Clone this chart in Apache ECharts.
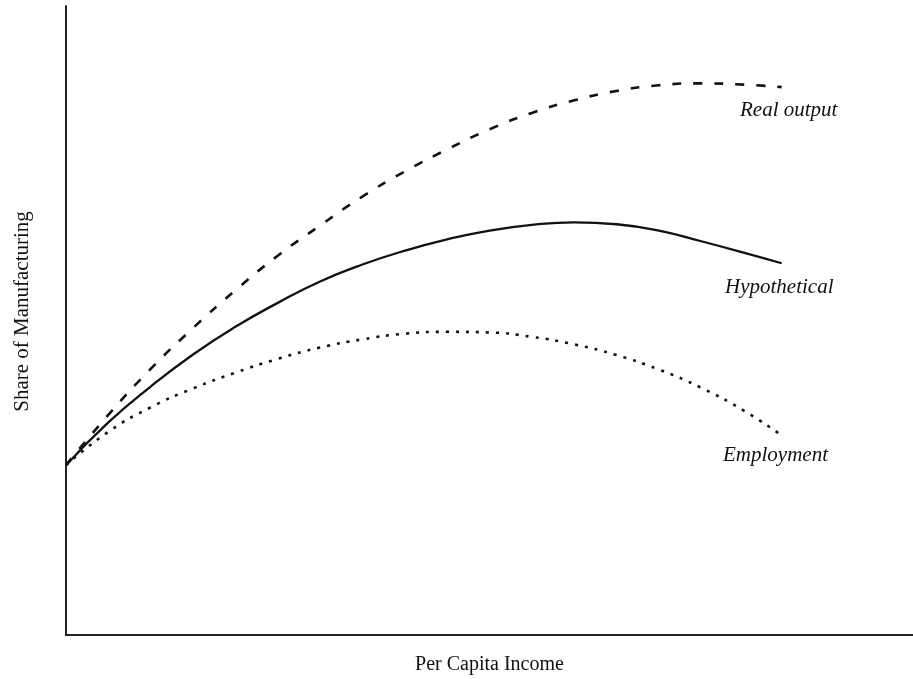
<!DOCTYPE html>
<html>
<head>
<meta charset="utf-8">
<script src="https://cdn.jsdelivr.net/npm/echarts@6/dist/echarts.min.js"></script>
<style>
  html, body { margin: 0; padding: 0; background: #fff; }
  #chart { width: 913px; height: 679px; }
</style>
</head>
<body>
<div id="chart"></div>
<script>
// curves (x: income, y: share), axis range 0..100
const incomes = [0, 5, 10, 15, 20, 25, 30, 35, 40, 45, 50, 55, 60, 65, 70, 75, 80, 84.5]
const realOutput = [27, 35.0, 42.3, 48.8, 54.8, 60.3, 65.1, 69.7, 73.7, 77.2, 80.4, 83.0, 85.0, 86.5, 87.4, 87.7, 87.5, 87.1]
const hypothetical = [27, 33.8, 39.5, 44.6, 49.0, 52.8, 56.2, 58.9, 61.1, 62.9, 64.3, 65.2, 65.6, 65.3, 64.3, 62.6, 60.8, 59.1]
const employment = [27, 32.3, 36.2, 39.2, 41.7, 43.9, 45.7, 47.0, 47.9, 48.2, 48.1, 47.4, 46.2, 44.5, 42.2, 39.3, 35.7, 32.1]
const employmentIncomes = [0, 5, 10, 15, 20, 25, 30, 35, 40, 45, 50, 55, 60, 65, 70, 75, 80, 84.1]
const curveLabels = ['Real output', 'Hypothetical', 'Employment']

const serif = '"Liberation Serif", "DejaVu Serif", serif'
const ink = '#111'

let chart = echarts.init(document.getElementById('chart'))

function pairs(xs, ys) {
  return ys.map((y, i) => [xs[i], y])
}

function curve(name, data, width, dash) {
  return {
    name,
    type: 'line',
    data,
    smooth: true,
    symbol: 'none',
    lineStyle: { color: ink, width, type: dash || 'solid' },
    animation: false
  }
}

function tag(text, x, y) {
  return {
    type: 'text',
    left: x,
    top: y,
    style: {
      text,
      fill: ink,
      font: 'italic 21px ' + serif
    }
  }
}

chart.setOption({
  backgroundColor: '#fff',
  animation: false,
  grid: { left: 66, right: 0, top: 6, bottom: 44, containLabel: false, outerBoundsMode: 'none' },
  xAxis: {
    type: 'value',
    min: 0,
    max: 100,
    name: 'Per Capita Income',
    nameLocation: 'middle',
    nameGap: 20,
    nameTextStyle: { fontFamily: serif, fontSize: 20, color: ink },
    axisLine: { lineStyle: { color: '#222', width: 2 } },
    axisTick: { show: false },
    axisLabel: { show: false },
    splitLine: { show: false }
  },
  yAxis: {
    type: 'value',
    min: 0,
    max: 100,
    name: 'Share of Manufacturing',
    nameLocation: 'middle',
    nameGap: 33,
    nameTextStyle: { fontFamily: serif, fontSize: 21, color: ink, padding: [0, 0, 0, 18] },
    axisLine: { show: true, lineStyle: { color: '#222', width: 2 } },
    axisTick: { show: false },
    axisLabel: { show: false },
    splitLine: { show: false }
  },
  series: [
    curve(curveLabels[0], pairs(incomes, realOutput), 2.6, [9, 12]),
    curve(curveLabels[1], pairs(incomes, hypothetical), 2.3),
    curve(curveLabels[2], pairs(employmentIncomes, employment), 2.6, [3, 7])
  ],
  graphic: [
    tag(curveLabels[0], 740, 100),
    tag(curveLabels[1], 725, 277),
    tag(curveLabels[2], 723, 445)
  ]
})
</script>
</body>
</html>
